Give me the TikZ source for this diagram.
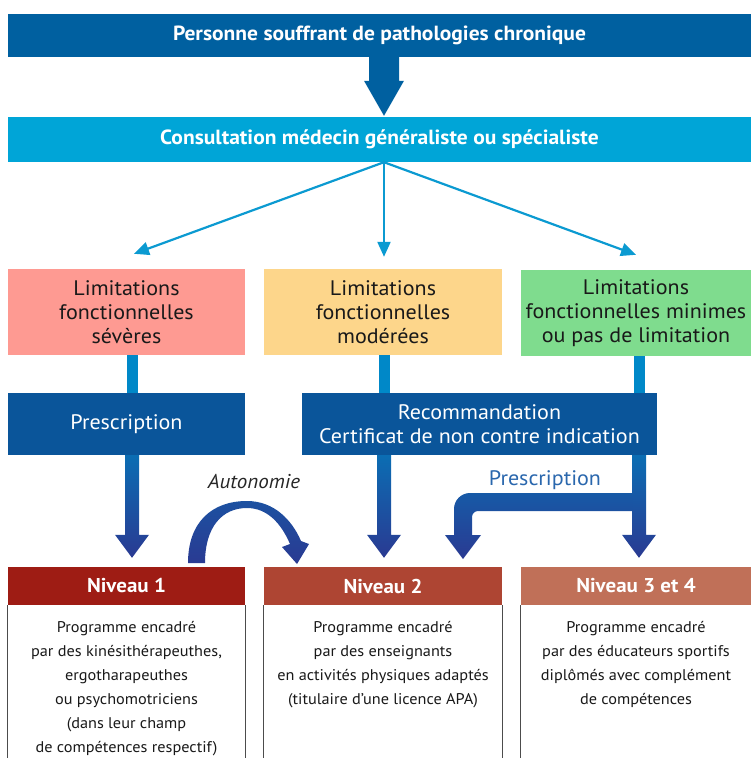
\documentclass[tikz,border=0pt]{standalone}
\usepackage{fontspec}
\setmainfont{PT Sans}[FakeStretch=1.05]
\usetikzlibrary{arrows.meta,calc}

\definecolor{topblue}{HTML}{0060A0}
\definecolor{consblue}{HTML}{00A5D7}
\definecolor{thinblue}{HTML}{0B9AD1}
\definecolor{stemblue}{HTML}{0088C8}
\definecolor{advblue}{HTML}{0A559A}
\definecolor{arrtop}{HTML}{0B6DB3}
\definecolor{arrbot}{HTML}{2A3A92}
\definecolor{labblue}{HTML}{2A67AD}
\definecolor{limred}{HTML}{FE9A92}
\definecolor{limyel}{HTML}{FDD68B}
\definecolor{limgrn}{HTML}{7FDC8E}
\definecolor{nivone}{HTML}{9E1C14}
\definecolor{nivtwo}{HTML}{AE4533}
\definecolor{nivthr}{HTML}{C07058}

% fat vertical arrow, tip 9pt above the second point
\newcommand\fatarrow[2]{%
  \shade[top color=arrtop, bottom color=arrbot]
    let \p1 = (#1), \p2 = (#2) in
    (\x1-7pt,\y1) -- (\x1+7pt,\y1) -- (\x1+7pt,\y2+32pt) -- (\x1+17pt,\y2+32pt)
    -- (\x1,\y2+9pt) -- (\x1-17pt,\y2+32pt) -- (\x1-7pt,\y2+32pt) -- cycle;}

\begin{document}
\begin{tikzpicture}
  [
    x=1pt, y=-1pt,
    band/.style =
      {rectangle, fill=#1, text=white, inner sep=0pt,
       font=\bfseries\fontsize{20.5}{24}\selectfont,
       minimum width=743pt, minimum height=43pt},
    limit/.style =
      {rectangle, fill=#1, align=center, inner sep=0pt, text=black!90,
       font=\fontsize{21}{24}\selectfont, minimum height=86pt},
    advice/.style =
      {rectangle, fill=advblue, text=white, align=center, inner sep=0pt,
       font=\fontsize{21}{24}\selectfont, minimum height=62pt},
    level/.style =
      {rectangle, fill=#1, text=white, inner sep=0pt,
       font=\bfseries\fontsize{20}{24}\selectfont, minimum height=38pt},
    body/.style =
      {align=center, anchor=north, inner sep=0pt, text=black!90,
       font=\fontsize{15.5}{24}\selectfont},
    frame/.style = {draw=black!70, line width=1pt},
    stem/.style  = {draw=stemblue, line width=11pt},
    thin/.style  = {draw=thinblue, line width=2.2pt,
                    -{Triangle[length=15pt,width=13pt]}}
  ]
  \useasboundingbox (0,0) rectangle (751,758);

  \coordinate (col1) at (132,0);
  \coordinate (col2) at (384,0);
  \coordinate (col3) at (639,0);

  \node [band=topblue]  at (379.5,35.5) (top)  {Personne souffrant de pathologies chronique};
  \node [band=consblue, minimum height=45pt] at (379.5,139.5) (cons)
        {Consultation médecin généraliste ou spécialiste};

  \node [limit=limred, minimum width=237pt] at (126.5,312) (lim1)
        {Limitations\\fonctionnelles\\sévères};
  \node [limit=limyel, minimum width=238pt] at (383,312)   (lim2)
        {Limitations\\fonctionnelles\\modérées};
  \node [limit=limgrn, minimum width=230pt] at (636,313)   (lim3)
        {Limitations\\fonctionnelles minimes\\ou pas de limitation};

  \node [advice, minimum width=237pt] at (126.5,424) (pres) {Prescription};
  \node [advice, minimum width=355pt] at (479.5,424) (rec)
        {Recommandation\\Certificat de non contre indication};

  \node [level=nivone, minimum width=237pt] at (126.5,586) (niv1) {Niveau 1};
  \node [level=nivtwo, minimum width=238pt] at (383,586)   (niv2) {Niveau 2};
  \node [level=nivthr, minimum width=230pt] at (636,586)   (niv3) {Niveau 3 et 4};

  \node [body] at (126.5,621) (txt1)
        {Programme encadré\\par des kinésithérapeuthes,\\ergotharapeuthes\\ou psychomotriciens\\(dans leur champ\\de compétences respectif)};
  \node [body] at (383,621)   (txt2)
        {Programme encadré\\par des enseignants\\en activités physiques adaptés\\(titulaire d’une licence APA)};
  \node [body] at (636,621)   (txt3)
        {Programme encadré\\par des éducateurs sportifs\\diplômés avec complément\\de compétences};

  \node [font=\itshape\fontsize{20}{22}\selectfont, text=black!85] at (254,482) (auto) {Autonomie};
  \node [font=\fontsize{21}{22}\selectfont, text=labblue] at (545,480) (presc) {Prescription};

  % top arrow
  \fill[topblue] let \p1 = (top.south -| col2), \p2 = (cons.north) in
    (\x1-15pt,\y1) -- (\x1+15pt,\y1) -- (\x1+15pt,\y2+36pt) -- (\x1+20pt,\y2+36pt)
    -- (\x1,\y2+1pt) -- (\x1-20pt,\y2+36pt) -- (\x1-15pt,\y2+36pt) -- cycle;

  \draw[thin] (cons.south -| col2) -- ([xshift=7.5pt,yshift=15pt]lim1.north);
  \draw[thin] (cons.south -| col2) -- ([xshift=1pt,yshift=12pt]lim2.north);
  \draw[thin] (cons.south -| col2) -- ([yshift=15pt]lim3.north);

  \draw[stem] (lim1.south -| col1) -- (pres.north -| col1);
  \draw[stem] (lim2.south -| col2) -- (rec.north -| col2);
  \draw[stem] (lim3.south -| col3) -- (rec.north -| col3);

  \fatarrow{pres.south -| col1}{niv1.north -| col1}
  \fatarrow{rec.south -| col2}{niv2.north -| col2}
  \fatarrow{rec.south -| col3}{niv3.north -| col3}

  % prescription elbow
  \shade[top color=arrtop!62!arrbot, bottom color=arrbot]
    (632,493) -- (470,493) arc[start angle=90, end angle=180, radius=16pt]
    -- (454,535) -- (445,535) -- (463,559) -- (481,535) -- (472,535) -- (472,517)
    arc[start angle=180, end angle=90, radius=6pt] -- (632,511) -- cycle;

  % autonomie curve
  \shade[top color=arrtop!45!arrbot, bottom color=arrbot]
    (188,563) .. controls (188,522) and (212,501) .. (247,501)
    .. controls (274,501) and (292,520) .. (301,541)
    -- (309,544) -- (297,564) -- (282,547) -- (290,544)
    .. controls (281,523) and (267,508) .. (247,508)
    .. controls (222,508) and (205,527) .. (205,563) -- cycle;

  \draw[frame] (niv1.south west) -- ++(0,153) (niv1.south east) -- ++(0,153);
  \draw[frame] (niv2.south west) -- ++(0,153) (niv2.south east) -- ++(0,153);
  \draw[frame] (niv3.south west) -- ++(0,153);
\end{tikzpicture}
\end{document}
